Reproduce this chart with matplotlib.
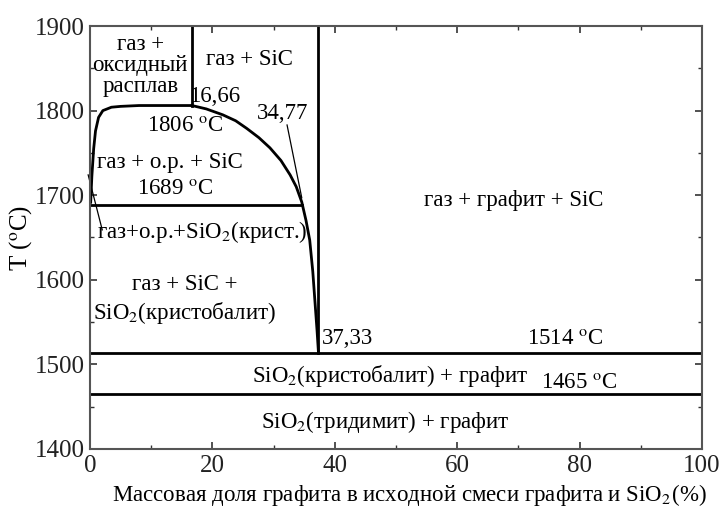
import matplotlib
matplotlib.use('Agg')
import matplotlib.pyplot as plt
import matplotlib.ticker as ticker

plt.rcParams['font.family'] = ['Liberation Serif', 'DejaVu Serif']
plt.rcParams['mathtext.fontset'] = 'stix'

# liquidus, left branch (0 .. 16.66 %)
left_x = [0.1, 0.3, 0.6, 0.9, 1.4, 2.1, 3.5, 5.0, 8.0, 12.0, 16.66]
left_T = [1690, 1722, 1755, 1776, 1792, 1800, 1804, 1805, 1806, 1806, 1806]

# liquidus, right branch (16.66 .. 37.33 %)
right_x = [16.66, 19.0, 21.7, 23.8, 25.6, 27.6, 29.4, 31.2, 32.7, 33.7, 34.6,
           35.3, 35.9, 36.4, 36.8, 37.1, 37.33]
right_T = [1806, 1802, 1795, 1788, 1779, 1768, 1756, 1741, 1724, 1710, 1692,
           1670, 1647, 1610, 1570, 1540, 1514]

T_eut = 1806      # 16.66 %
T_mono = 1689
T_sic = 1514      # 37.33 %
T_trans = 1465
x_eut = 16.66
x_mono = 34.6
x_sic = 37.33

fig = plt.figure(figsize=(7.27, 5.09), dpi=100)
ax = fig.add_axes([0.1238, 0.1179, 0.8418, 0.831])

lw = 2.0
ax.plot(left_x, left_T, color='black', lw=lw, solid_capstyle='butt')
ax.plot(right_x, right_T, color='black', lw=lw)
ax.plot([x_eut, x_eut], [T_eut, 1900], color='black', lw=lw)
ax.plot([x_sic, x_sic], [T_sic, 1900], color='black', lw=lw)
ax.plot([0, x_mono], [T_mono, T_mono], color='black', lw=lw)
ax.axhline(T_sic, color='black', lw=lw)
ax.axhline(T_trans, color='black', lw=lw)

# leader lines
ax.plot([32.2, 34.6], [1783, 1697], color='black', lw=0.9)
ax.plot([-0.3, 2.0], [1724, 1659], color='black', lw=0.9, clip_on=False)

fs = 16.5
txt = dict(ha='center', va='center', fontsize=fs)
ax.text(8.2, 1853, 'газ +\nоксидный\nрасплав', linespacing=1.0, **txt)
ax.text(26.1, 1860, 'газ + SiC', **txt)
ax.text(20.3, 1817, '16,66', **txt)
ax.text(31.5, 1797, '34,77', **txt)
ax.text(15.5, 1781, r'1806 $^{\mathrm{o}}$C', **txt)
ax.text(13.1, 1739, 'газ + о.р. + SiC', **txt)
ax.text(13.9, 1707, r'1689 $^{\mathrm{o}}$C', **txt)
ax.text(69.3, 1694, 'газ + графит + SiC', **txt)
ax.text(18.3, 1656, r'газ+о.р.+SiO$_2$(крист.)', **txt)
ax.text(15.5, 1595, 'газ + SiC +', **txt)
ax.text(15.5, 1561, r'SiO$_2$(кристобалит)', **txt)
ax.text(42.0, 1531, '37,33', **txt)
ax.text(77.6, 1529, r'1514 $^{\mathrm{o}}$C', **txt)
ax.text(49.0, 1486, r'SiO$_2$(кристобалит) + графит', **txt)
ax.text(80.0, 1478, r'1465 $^{\mathrm{o}}$C', **txt)
ax.text(48.2, 1432, r'SiO$_2$(тридимит) + графит', **txt)

ax.set_xlim(0, 100)
ax.set_ylim(1400, 1900)
ax.xaxis.set_major_locator(ticker.MultipleLocator(20))
ax.xaxis.set_minor_locator(ticker.MultipleLocator(10))
ax.yaxis.set_major_locator(ticker.MultipleLocator(100))
ax.yaxis.set_minor_locator(ticker.MultipleLocator(50))
ax.tick_params(which='both', direction='in', top=True, right=True,
               labelsize=18, colors='#333333', labelcolor='#222222')
ax.tick_params(which='major', length=5, width=1.2, pad=4)
ax.tick_params(which='minor', length=3, width=1.0)
for sp in ax.spines.values():
    sp.set_color('#555555')
    sp.set_linewidth(1.5)

ax.set_xlabel(r'Массовая доля графита в исходной смеси графита и SiO$_2$'
              + r'$\mathregular{^{}}$(%)', fontsize=16.5)
ax.xaxis.set_label_coords(0.522, -0.078)
ax.set_ylabel(r'T ($^{\mathrm{o}}$C)', fontsize=18, labelpad=0)

fig.savefig('out.png', dpi=100)
